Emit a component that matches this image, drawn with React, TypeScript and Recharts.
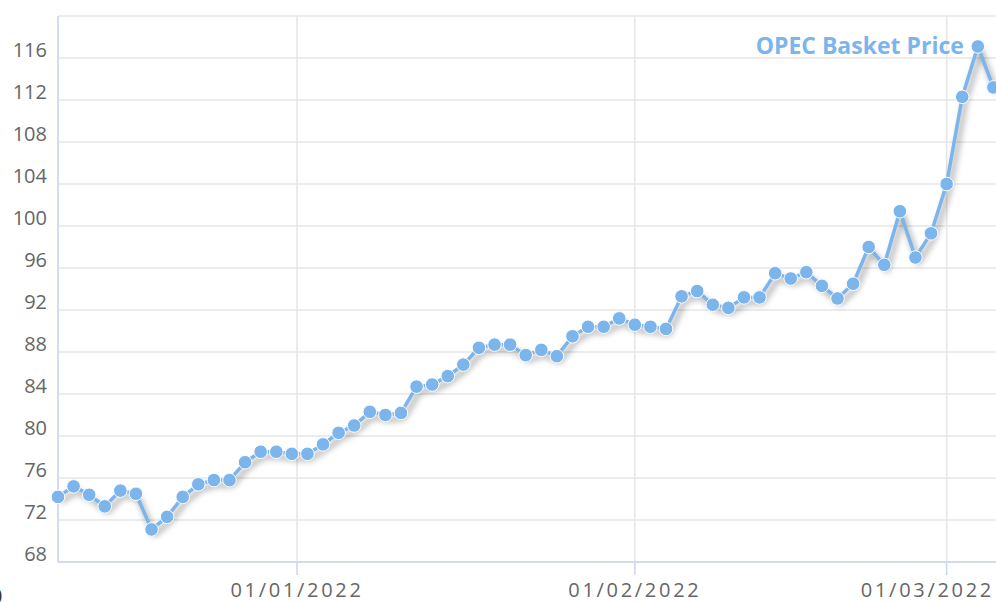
import { LineChart, Line, XAxis, YAxis, CartesianGrid, LabelList } from 'recharts';

// OPEC basket price, business days only (ordinal x axis)
const dates = [
  '2021-12-10',
  '2021-12-13', '2021-12-14', '2021-12-15', '2021-12-16', '2021-12-17',
  '2021-12-20', '2021-12-21', '2021-12-22', '2021-12-23', '2021-12-24',
  '2021-12-27', '2021-12-28', '2021-12-29', '2021-12-30', '2021-12-31',
  '2022-01-03', '2022-01-04', '2022-01-05', '2022-01-06', '2022-01-07',
  '2022-01-10', '2022-01-11', '2022-01-12', '2022-01-13', '2022-01-14',
  '2022-01-17', '2022-01-18', '2022-01-19', '2022-01-20', '2022-01-21',
  '2022-01-24', '2022-01-25', '2022-01-26', '2022-01-27', '2022-01-28',
  '2022-01-31',
  '2022-02-01', '2022-02-02', '2022-02-03', '2022-02-04',
  '2022-02-07', '2022-02-08', '2022-02-09', '2022-02-10', '2022-02-11',
  '2022-02-14', '2022-02-15', '2022-02-16', '2022-02-17', '2022-02-18',
  '2022-02-21', '2022-02-22', '2022-02-23', '2022-02-24', '2022-02-25',
  '2022-02-28',
  '2022-03-01', '2022-03-02', '2022-03-03', '2022-03-04',
];

const prices = [
  74.2, 75.2, 74.4, 73.3, 74.8, 74.5, 71.1, 72.3, 74.2, 75.4,
  75.8, 75.8, 77.5, 78.5, 78.5, 78.3, 78.3, 79.2, 80.3, 81.0,
  82.3, 82.0, 82.2, 84.7, 84.9, 85.7, 86.8, 88.4, 88.7, 88.7,
  87.7, 88.2, 87.6, 89.5, 90.4, 90.4, 91.2, 90.6, 90.4, 90.2,
  93.3, 93.8, 92.5, 92.2, 93.2, 93.2, 95.5, 95.0, 95.6, 94.3,
  93.1, 94.5, 98.0, 96.3, 101.4, 97.0, 99.3, 104.0, 112.3, 117.1, 113.2,
];

const tickDates = ['2022-01-01', '2022-02-01', '2022-03-01'];
const tickLabels = ['01/01/2022', '01/02/2022', '01/03/2022'];
const yTicks = [68, 72, 76, 80, 84, 88, 92, 96, 100, 104, 108, 112, 116, 120];

const SERIES_NAME = 'OPEC Basket Price';
const LINE_COLOR = '#7cb5ec';
const FONT = '"Open Sans", "DejaVu Sans", sans-serif';
const VIEW_RIGHT = 994;

const data = prices.map((price, idx) => ({ idx, date: dates[idx], price }));

// position of a calendar date on the ordinal (index) axis
const ordinalPos = (d: string) => {
  const t = Date.parse(d);
  const j = dates.findIndex((x) => Date.parse(x) >= t);
  const tj = Date.parse(dates[j]);
  if (tj === t || j === 0) return j;
  const tp = Date.parse(dates[j - 1]);
  return j - 1 + (t - tp) / (tj - tp);
};
const xTicks = tickDates.map(ordinalPos);

const XTick = (props: any) => {
  const { x, y, payload } = props;
  const i = xTicks.findIndex((t) => Math.abs(t - payload.value) < 1e-6);
  const halfW = 65;
  // keep the label inside the visible area, like a justified overflow
  const overflow = x + halfW > VIEW_RIGHT;
  return (
    <text x={overflow ? VIEW_RIGHT : x} y={y} dy={20} textAnchor={overflow ? 'end' : 'middle'}
      fill="#666" fontSize={20} fontFamily={FONT} letterSpacing={2.7}>
      {tickLabels[i]}
    </text>
  );
};

const YTick = (props: any) => {
  const { x, y, payload } = props;
  if (payload.value === 120) return null;
  return (
    <text x={x - 11} y={y - 1.5} textAnchor="end" fill="#666" fontSize={20} fontFamily={FONT}>
      {payload.value}
    </text>
  );
};

const SeriesLabel = (props: any) => {
  const { x, y, index } = props;
  if (index !== prices.length - 2) return null;
  return (
    <text x={x - 14} y={y + 8} textAnchor="end" fill={LINE_COLOR} fontSize={23}
      fontWeight="bold" fontFamily={FONT}>
      {SERIES_NAME}
    </text>
  );
};

export default function App() {
  return (
    <div style={{ position: 'fixed', left: 0, top: 0, width: 996, height: 602, overflow: 'hidden', background: '#fff' }}>
      <style>{'.recharts-line-curve { filter: drop-shadow(3px 5px 3px rgba(0,0,0,0.42)); }'}</style>
      <LineChart width={1009} height={602} data={data} margin={{ top: 16, right: 0, bottom: 0, left: 0 }}>
        <CartesianGrid stroke="#e6e6e6" strokeWidth={1.5} />
        <XAxis
          type="number"
          dataKey="idx"
          domain={[0, 61]}
          ticks={xTicks}
          tick={<XTick />}
          tickSize={13}
          tickMargin={2}
          tickLine={{ stroke: '#ccd6eb', strokeWidth: 1.5 }}
          axisLine={{ stroke: '#ccd6eb', strokeWidth: 1.5 }}
          height={40}
          interval={0}
        />
        <YAxis
          type="number"
          domain={[68, 120]}
          ticks={yTicks}
          tick={<YTick />}
          tickSize={0}
          tickMargin={0}
          tickLine={false}
          axisLine={{ stroke: '#ccd6eb', strokeWidth: 1.5 }}
          width={58}
          interval={0}
        />
        <Line
          type="linear"
          dataKey="price"
          stroke={LINE_COLOR}
          strokeWidth={3.5}
          dot={{ r: 6.8, fill: LINE_COLOR, stroke: '#fff', strokeWidth: 1 }}
          isAnimationActive={false}
        >
          <LabelList dataKey="price" content={<SeriesLabel />} />
        </Line>
      </LineChart>
      <div style={{ position: 'absolute', left: -9, top: 582, fontSize: 20, fontFamily: FONT, color: '#333' }}>0</div>
    </div>
  );
}
